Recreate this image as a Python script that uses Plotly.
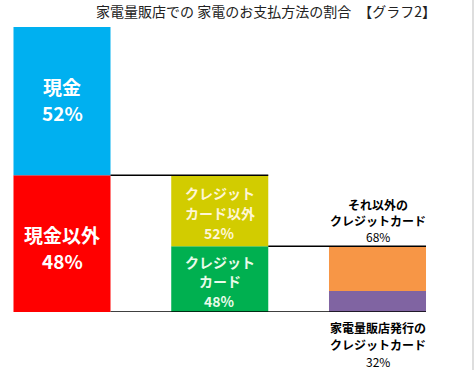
import plotly.graph_objects as go

# Data (percent)
positions = [0, 1, 2]
cash = 52
non_cash = 48
credit_other_share = 52   # % of non-cash: クレジットカード以外
credit_share = 48         # % of non-cash: クレジットカード
other_card_share = 68     # % of credit: それ以外のクレジットカード
store_card_share = 32     # % of credit: 家電量販店発行のクレジットカード

# derived heights (in overall percent units)
credit_h = non_cash * credit_share / 100
credit_other_h = non_cash * credit_other_share / 100
store_h = credit_h * store_card_share / 100
other_h = credit_h * other_card_share / 100

FONT = "Noto Sans CJK JP"
W = 0.615

fig = go.Figure()

def add_bar(x, base, h, color):
    fig.add_trace(go.Bar(x=[x], y=[h], base=[base], width=[W],
                         marker=dict(color=color, line=dict(width=0)),
                         hoverinfo="skip", showlegend=False))

add_bar(positions[0], 0, non_cash, "#FF0000")
add_bar(positions[0], non_cash, cash, "#00B0F0")
add_bar(positions[1], 0, credit_h, "#00B050")
add_bar(positions[1], credit_h, credit_other_h, "#D2CC00")
add_bar(positions[2], 0, store_h, "#8064A2")
add_bar(positions[2], store_h, other_h, "#F79646")

# connector lines
def hline(x0, x1, y):
    fig.add_shape(type="line", x0=x0, x1=x1, y0=y, y1=y, xref="x", yref="y",
                  line=dict(color="black", width=1.5), layer="above")

hline(positions[0] + W / 2, positions[1] + W / 2, non_cash)
hline(positions[1] + W / 2, positions[2] + W / 2, credit_h)
hline(positions[0] + W / 2, positions[2] + W / 2, 0)

def label(x, y, text, size, color, yshift=0, bold=True):
    fig.add_annotation(x=x, y=y, xref="x", yref="y", text=text, showarrow=False,
                       font=dict(family=FONT, size=size, color=color,
                                 weight="bold" if bold else "normal"),
                       yanchor="middle", yshift=yshift, align="center")

def lines(x, y, items, shifts, size, color):
    for (txt, b), dy in zip(items, shifts):
        label(x, y, txt, size, color, yshift=dy, bold=b)

lines(positions[0], non_cash + cash / 2,
      [("現金", True), (f"{cash}%", True)], [15, -11], 19, "white")
lines(positions[0], non_cash / 2,
      [("現金以外", True), (f"{non_cash}%", True)], [9.5, -16.5], 19, "white")
lines(positions[1], credit_h + credit_other_h / 2,
      [("クレジット", True), ("カード以外", True), (f"{credit_other_share}%", True)],
      [18, -2, -22], 14, "#FFF6D5")
lines(positions[1], credit_h / 2,
      [("クレジット", True), ("カード", True), (f"{credit_share}%", True)],
      [17, -2, -22], 14, "#EAFBEA")
lines(positions[2], credit_h,
      [("それ以外の", True), ("クレジットカード", True), (f"{other_card_share}%", False)],
      [42, 26, 10], 12, "black")
lines(positions[2], 0,
      [("家電量販店発行の", True), ("クレジットカード", True), (f"{store_card_share}%", False)],
      [-15, -32, -49], 12, "black")

# right border line
fig.add_shape(type="line", xref="paper", yref="paper", x0=1.0 - 2 / 475, x1=1.0 - 2 / 475,
              y0=-58 / 285, y1=1 + 27 / 285, line=dict(color="#BDBDBD", width=1))

fig.update_layout(
    width=475, height=370,
    margin=dict(l=0, r=0, t=27, b=58),
    paper_bgcolor="white", plot_bgcolor="white",
    barmode="overlay",
    title=dict(text="家電量販店での 家電のお支払方法の割合　【グラフ2】",
               x=266 / 475, xanchor="center", y=1 - 12 / 370, yanchor="middle",
               font=dict(family=FONT, size=14, color="#222222")),
    xaxis=dict(range=[-62 / 157.75, (475 - 62) / 157.75], visible=False, fixedrange=True),
    yaxis=dict(range=[0, 100], visible=False, fixedrange=True),
    showlegend=False,
)

fig.write_html("out.html", config={"displayModeBar": False},
               post_script="document.body.style.margin='0';document.body.style.overflow='hidden';")
